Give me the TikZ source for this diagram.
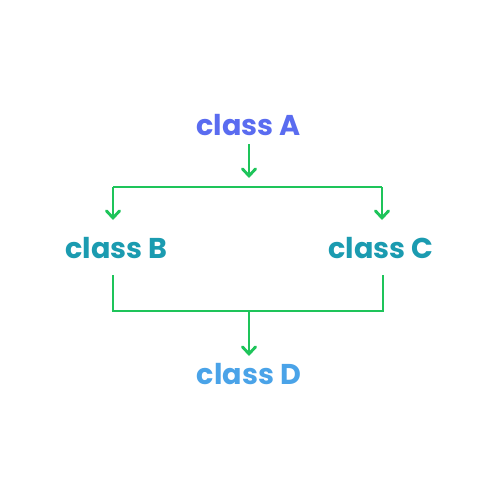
\documentclass[tikz,border=0pt]{standalone}
\usepackage{fontspec}
\setmainfont{Poppins}[UprightFont=* Bold]
\usetikzlibrary{arrows.meta}
\definecolor{cA}{HTML}{5A6CF0}
\definecolor{cBC}{HTML}{1B9BB0}
\definecolor{cD}{HTML}{4AA3E8}
\definecolor{gr}{HTML}{1EC45A}
\tikzset{
  lbl/.style={anchor=base,inner sep=0pt,font=\fontsize{16.3}{18}\selectfont},
  ln/.style={draw=gr,line width=1.65pt},
  arr/.style={ln,-{Straight Barb[length=4pt,width=7.5pt,line cap=round]}}
}
\begin{document}
\begin{tikzpicture}[x=0.02cm,y=-0.02cm]
\useasboundingbox (0,0) rectangle (500,500);
\node[lbl,text=cA] (A) at (248.5,135) {class A};
\node[lbl,text=cBC] (B) at (116.5,258) {class B};
\node[lbl,text=cBC] (C) at (381,258) {class C};
\node[lbl,text=cD] (D) at (249,384) {class D};
\coordinate (a0) at (249,144);
\coordinate (a1) at (249,178);
\coordinate (tl) at (113,187);
\coordinate (tr) at (382,187);
\coordinate (bt) at (113,220);
\coordinate (ct) at (382,220);
\coordinate (bb) at (113,275);
\coordinate (cb) at (383,275);
\coordinate (bl) at (113,311);
\coordinate (br) at (383,311);
\coordinate (m) at (249,311);
\coordinate (d0) at (249,356);
\draw[arr] (a0) -- (a1);
\draw[ln] (tl) -- (tr);
\draw[arr] (tl) -- (bt);
\draw[arr] (tr) -- (ct);
\draw[ln] (bb) -- (bl) -- (br) -- (cb);
\draw[arr] (m) -- (d0);
\end{tikzpicture}
\end{document}
